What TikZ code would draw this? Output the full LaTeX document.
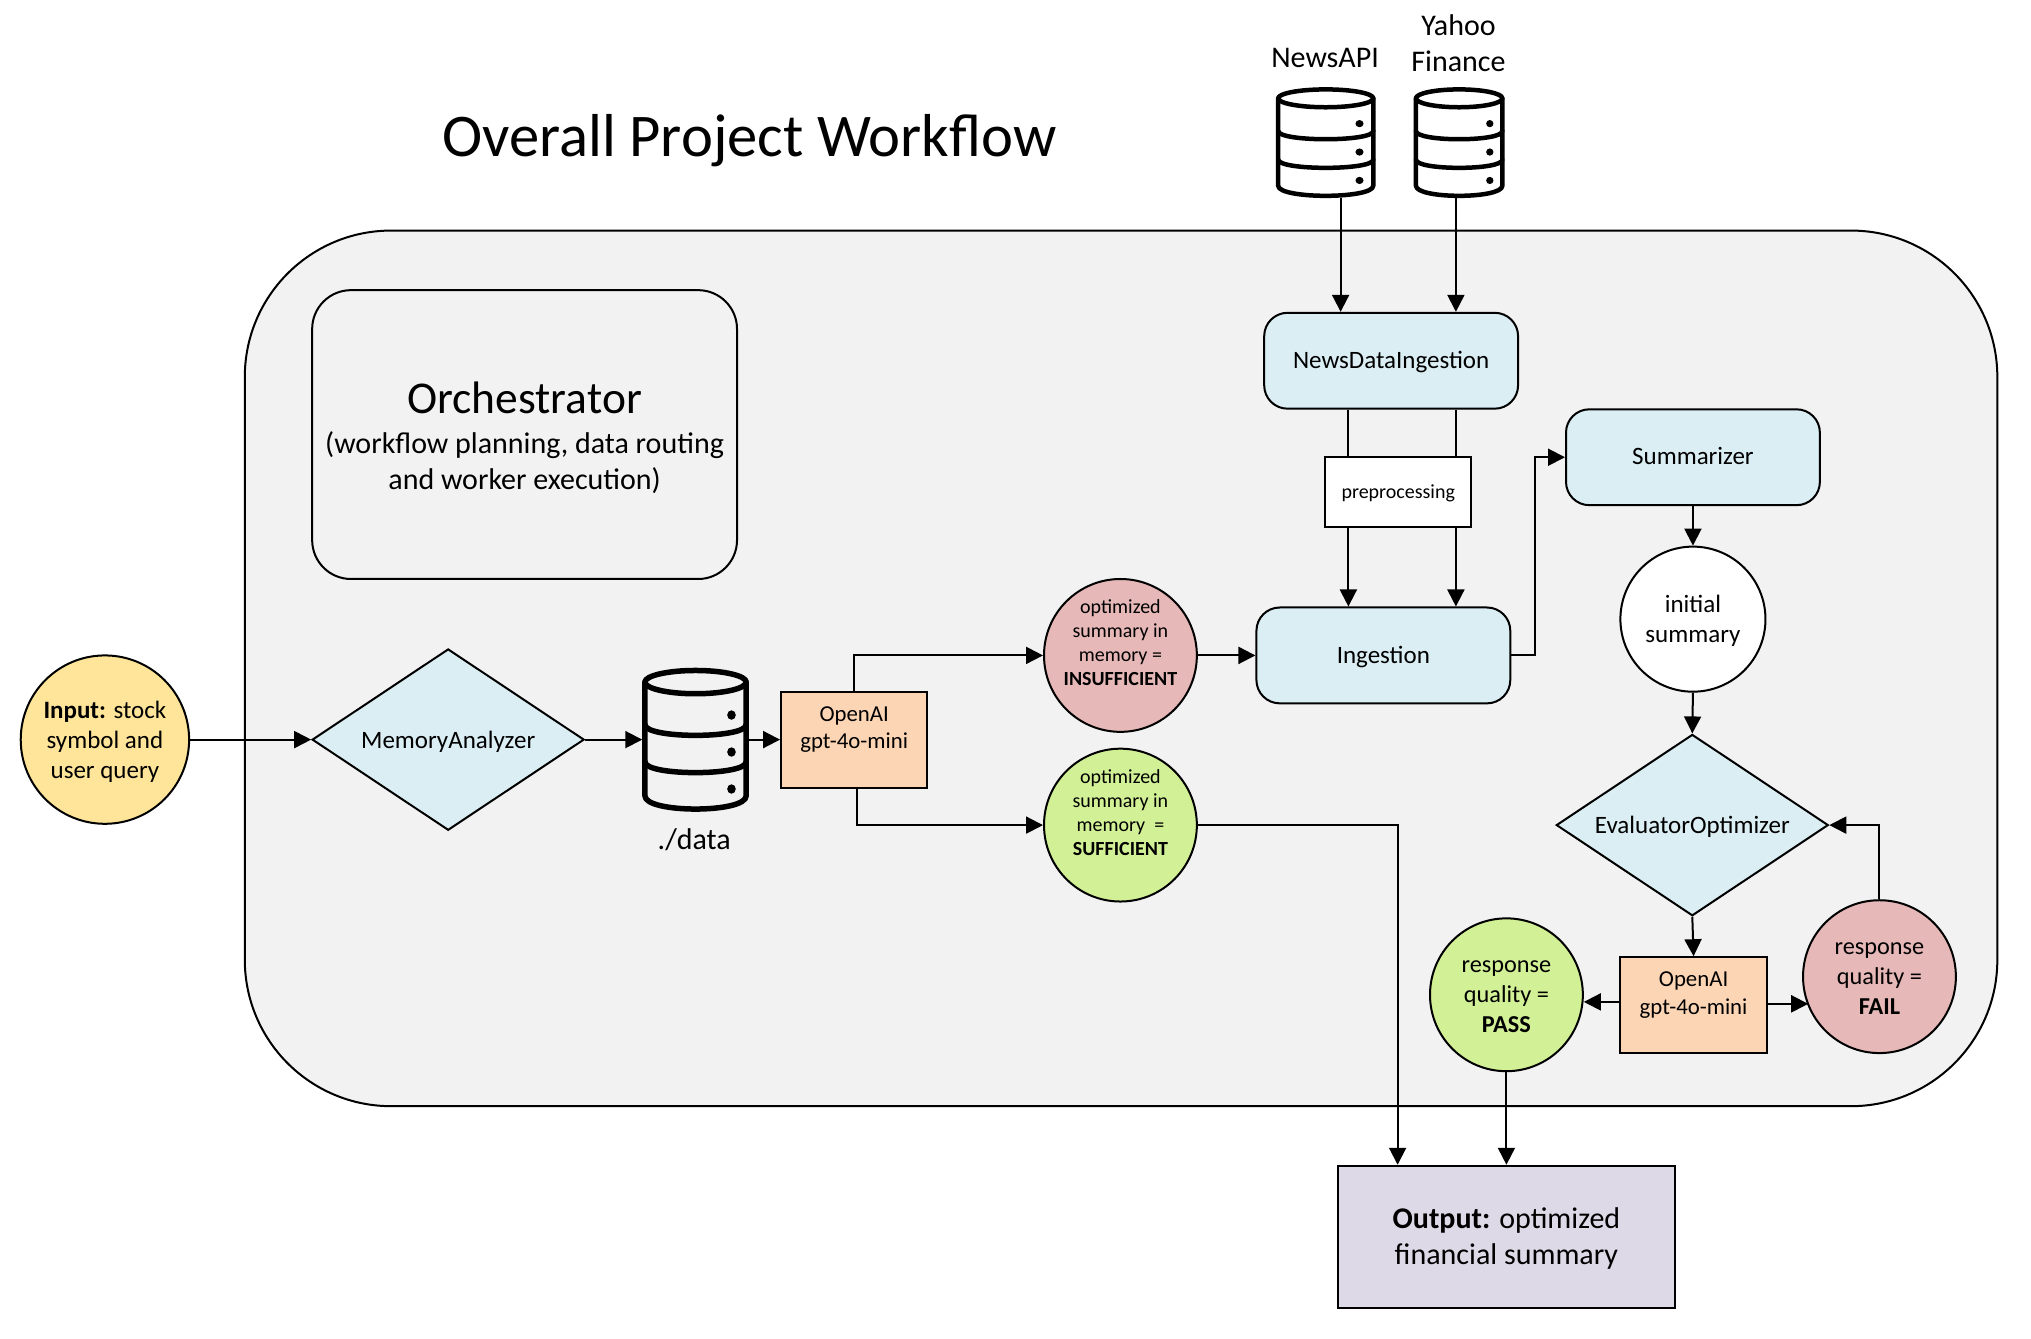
\documentclass[tikz,border=0pt]{standalone}
\usepackage{fontspec}
\setmainfont{Carlito}
\usetikzlibrary{arrows.meta,shapes.geometric}
\definecolor{bgc}{HTML}{F2F2F2}
\definecolor{bluec}{HTML}{DBEEF4}
\definecolor{orangec}{HTML}{FCD5B5}
\definecolor{redc}{HTML}{E6B8B7}
\definecolor{greenc}{HTML}{D2F095}
\definecolor{purplec}{HTML}{DDD9E6}
\definecolor{yellowc}{HTML}{FFE599}
\def\uu{1.29528pt}
\newcommand\fsA{\fontsize{20}{24}\selectfont}
\newcommand\fsB{\fontsize{22.8}{27.2}\selectfont}
\newcommand\fsC{\fontsize{24.3}{30}\selectfont}
\newcommand\fsD{\fontsize{30}{36}\selectfont}
\newcommand\fsE{\fontsize{25}{30}\selectfont}
\newcommand\tb[2][2.4pt]{\raisebox{-#1}[\height][\depth]{\begin{tabular}{@{}c@{}}#2\end{tabular}}}
\newcommand\dbicon[5]{%
 \begin{scope}[shift={(#1,#2)},xscale=#3,yscale=#4,line width=#5,line cap=round,line join=round]
  \draw (49.5,11.5) ellipse (47.2 and 8.9);
  \draw (2.3,11.5) -- (2.3,98.5) .. controls (2.3,112) and (96.7,112) .. (96.7,98.5) -- (96.7,11.5);
  \draw (2.3,44) .. controls (2.3,55) and (96.7,55) .. (96.7,44);
  \draw (2.3,72.5) .. controls (2.3,83.5) and (96.7,83.5) .. (96.7,72.5);
  \fill (83,36.7) ellipse (4 and 3.6);
  \fill (83,65) ellipse (4 and 3.6);
  \fill (83,93.3) ellipse (4 and 3.6);
 \end{scope}}
\tikzset{
 arr/.style={draw=black,line width=2pt,-{Triangle[length=17pt,width=17pt]}},
 plain/.style={draw=black,line width=2pt},
 base/.style={draw=black,line width=2pt,inner sep=0pt,align=center},
 rbox/.style={base,rectangle,rounded corners=18*\uu,fill=bluec,minimum width=196*\uu,minimum height=74*\uu,font=\fsE},
 gbox/.style={base,rectangle,fill=orangec,minimum width=113*\uu,minimum height=74*\uu,font=\fsB},
 circ/.style={base,circle,minimum size=118*\uu,inner sep=-12pt},
 diam/.style={base,diamond,fill=bluec,minimum width=210*\uu,minimum height=140*\uu,font=\fsE},
 txt/.style={inner sep=0pt,align=center},
 icon/.style={inner sep=0pt,minimum width=1*\uu,minimum height=1*\uu}
}
\begin{document}
\begin{tikzpicture}[x=1.29528pt,y=-1.29528pt]
\useasboundingbox (0,0) rectangle (1568,1033);
% containers
\node[base,rectangle,fill=bgc,rounded corners=113*\uu,minimum width=1353*\uu,minimum height=676*\uu] (bg) at (865.5,516) {};
\node[base,rectangle,fill=bgc,rounded corners=30*\uu,minimum width=328*\uu,minimum height=223*\uu] (orch) at (405,335.5) {};
\node[txt,font=\fontsize{45.5}{54}\selectfont] (orchT) at (405,307) {Orchestrator};
\node[txt,font=\fsD] (orchS) at (405,357.5) {(workflow planning, data routing\\and worker execution)};
% title and labels
\node[txt,font=\fontsize{60.6}{72}\selectfont] (title) at (578.5,108.5) {Overall Project Workflow};
\node[txt,font=\fsD] (newsL) at (1023,45) {NewsAPI};
\node[txt,font=\fsD] (yahooL) at (1126,33) {Yahoo\\Finance};
\node[txt,font=\fsD] (dataL) at (536,648) {./data};
% database icons
\node[icon,minimum width=77*\uu,minimum height=86*\uu] (dbn) at (1023.5,110) {};
\node[icon,minimum width=70*\uu,minimum height=86*\uu] (dby) at (1126.5,110) {};
\node[icon,minimum width=82*\uu,minimum height=112*\uu] (dbd) at (537,571) {};
\dbicon{985}{67}{0.778}{0.775}{4.5pt}
\dbicon{1091.5}{67}{0.707}{0.775}{4.5pt}
\dbicon{496}{515}{0.828}{1.009}{5.5pt}
% nodes
\node[circ,fill=yellowc,minimum size=130*\uu,font=\fsE] (input) at (81,571) {\tb{\textbf{Input:} stock\\symbol and\\user query}};
\node[diam] (mem) at (346,571) {\makebox[0pt]{\tb{MemoryAnalyzer}}};
\node[gbox] (o1) at (659.5,571) {\tb[3.6pt]{OpenAI\\gpt-4o-mini\\\mbox{}}};
\node[circ,fill=redc,font=\fsA] (ins) at (865,506) {\tb[1.3pt]{optimized\\summary in\\memory =\\\textbf{INSUFFICIENT}\\\mbox{}}};
\node[circ,fill=greenc,font=\fsA] (suf) at (865,637) {\tb[1.3pt]{optimized\\summary in\\memory\ \ =\\\textbf{SUFFICIENT}\\\mbox{}}};
\node[rbox] (ing) at (1068,506) {\tb{Ingestion}};
\node[rbox] (news) at (1074,278.5) {\tb[1.6pt]{NewsDataIngestion}};
\node[base,rectangle,fill=white,minimum width=113*\uu,minimum height=54*\uu,font=\fsA] (prep) at (1079.5,380) {\tb[1.3pt]{preprocessing}};
\node[rbox] (summ) at (1307,353) {\tb[1.3pt]{Summarizer}};
\node[circ,fill=white,minimum size=112*\uu,font=\fsE] (init) at (1307,478) {\tb{initial\\summary}};
\node[diam] (eval) at (1306.5,637) {\makebox[0pt]{\tb{EvaluatorOptimizer}}};
\node[gbox] (o2) at (1307.5,776) {\tb[3.6pt]{OpenAI\\gpt-4o-mini\\\mbox{}}};
\node[circ,fill=redc,font=\fsC] (fail) at (1451,754) {\tb[1.6pt]{response\\quality =\\\textbf{FAIL}}};
\node[circ,fill=greenc,font=\fsC] (pass) at (1163,768) {\tb[1.6pt]{response\\quality =\\\textbf{PASS}}};
\node[base,rectangle,fill=purplec,minimum width=260*\uu,minimum height=110*\uu,font=\fsD] (out) at (1163,955) {\tb{\textbf{Output:} optimized\\financial summary}};
% helper coordinates
\coordinate (nx1) at (1035,0);
\coordinate (nx2) at (1124,0);
\coordinate (px1) at (1041,0);
\coordinate (px2) at (1124,0);
\coordinate (cx) at (1185,430);
\coordinate (ox) at (1079,0);
\coordinate (bx) at (662,0);
\coordinate (py) at (0,773.5);
\coordinate (fy) at (0,775);
\coordinate (fx) at (1396,0);
% connectors
\draw[arr] (dbn.south -| nx1) -- (news.north -| nx1);
\draw[arr] (dby.south -| nx2) -- (news.north -| nx2);
\draw[plain] (news.south -| px1) -- (prep.north -| px1);
\draw[plain] (news.south -| px2) -- (prep.north -| px2);
\draw[arr] (prep.south -| px1) -- (ing.north -| px1);
\draw[arr] (prep.south -| px2) -- (ing.north -| px2);
\draw[arr] (ing.east) -| (cx) |- (summ.west);
\draw[arr] (summ.south) -- (init.north);
\draw[arr] (init.south) -- (eval.north);
\draw[arr] (eval.south) -- (o2.north);
\draw[arr] (o2.west |- py) -- (pass.east |- py);
\draw[arr] (o2.east |- fy) -- (fx |- fy);
\draw[arr] (fail.north) |- (eval.east);
\draw[arr] (input.east) -- (mem.west);
\draw[arr] (mem.east) -- (dbd.west);
\draw[arr] (dbd.east) -- (o1.west);
\draw[arr] (o1.north) |- (ins.west);
\draw[arr] (o1.south -| bx) |- (suf.west);
\draw[arr] (ins.east) -- (ing.west);
\draw[arr] (suf.east) -| (ox |- out.north);
\draw[arr] (pass.south) -- (out.north);
\end{tikzpicture}
\end{document}
